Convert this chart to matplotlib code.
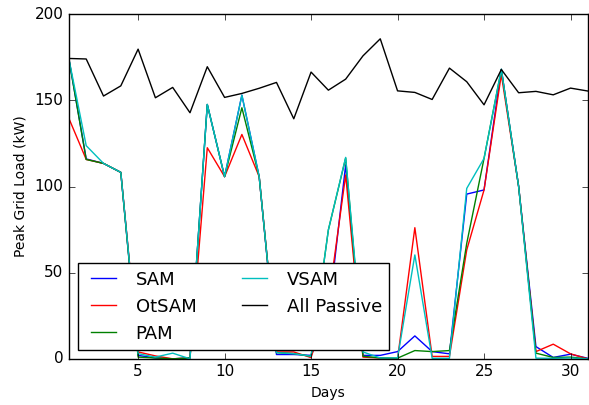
import matplotlib
matplotlib.use("Agg")
from matplotlib import pyplot as plt

days = list(range(1, 32))

sam = [174, 116, 113.4, 108.2, 2, 0.5, 0, 0.5, 147.6, 105.7, 153, 105.7, 2.5, 2.5, 2,
       25, 112.5, 2, 2, 4.2, 13.3, 4.2, 2.9, 95.6, 98, 168, 100, 7.1, 0.8, 2.7, 0.3]
otsam = [139.5, 115.7, 113.4, 108.2, 4, 1.7, 0, 0.5, 122.5, 105.7, 130.2, 105.7, 4, 4, 0.7,
         33, 106.7, 1, 0.5, 0, 76.1, 1.4, 1.4, 63.2, 98, 165, 100, 4.2, 8.5, 2.9, 0]
pam = [174, 115.7, 113.4, 108.2, 1, 0.5, 0, 0.5, 147.6, 105.7, 145.7, 105.7, 3.6, 3, 1.5,
       74.8, 116.5, 1.5, 0.5, 0.4, 4.8, 4.2, 4.8, 67, 116.3, 168, 100, 3.3, 0.8, 1, 0]
vsam = [174, 123.7, 113.4, 108.2, 3, 1, 3.3, 0, 147.6, 105.7, 153, 105.7, 3.6, 3, 1.5,
        74.8, 116.9, 4, 0.5, 0.5, 60.3, 0.3, 0.3, 98.9, 116.3, 168, 100, 0.4, 0.3, 0.5, 0]
passive = [174.3, 174, 152.5, 158.4, 179.7, 151.5, 157.5, 142.8, 169.5, 151.7, 154, 157,
           160.4, 139.3, 166.4, 155.9, 162.3, 175.8, 185.7, 155.5, 154.6, 150.5, 168.7,
           160.8, 147.4, 167.9, 154.4, 155.2, 153.2, 157.1, 155.4]

plt.style.use("classic")
plt.rcParams["figure.facecolor"] = "white"

fig = plt.figure(figsize=(5.89, 4.05), dpi=100)
ax = fig.add_axes([0.117, 0.114, 0.881, 0.851])

ax.plot(days, sam, color="blue", label="SAM")
ax.plot(days, otsam, color="red", label="OtSAM")
ax.plot(days, pam, color="green", label="PAM")
ax.plot(days, vsam, color="c", label="VSAM")
ax.plot(days, passive, color="black", label="All Passive")

ax.set_xlim(1, 31)
ax.set_ylim(0, 200)
ax.set_xticks([5, 10, 15, 20, 25, 30])
ax.set_yticks([0, 50, 100, 150, 200])
ax.tick_params(labelsize=11)
ax.set_xlabel("Days", fontsize=10)
ax.set_ylabel("Peak Grid Load (kW)", fontsize=10)

ax.legend(loc="lower left", ncol=2, fontsize=13, bbox_to_anchor=(0.0, 0.0),
          borderaxespad=0.5, handlelength=2.0, columnspacing=2.2)

fig.savefig("out.png", dpi=100, facecolor="white")
